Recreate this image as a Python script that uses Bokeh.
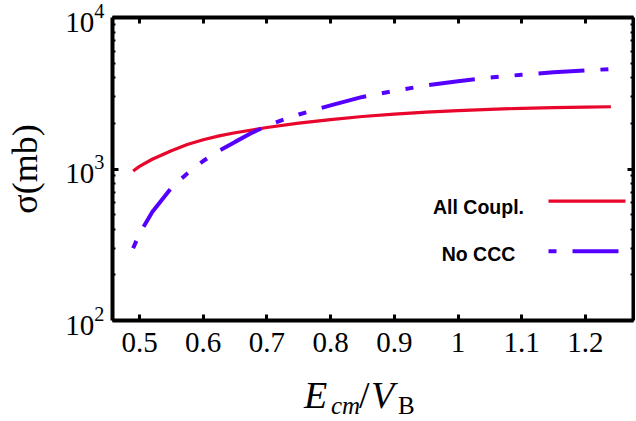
from bokeh.plotting import figure
from bokeh.models import Range1d, LogAxis, LinearAxis, FixedTicker, LogTicker, Label, Div
from bokeh.layouts import column
from bokeh.embed import file_html
from bokeh.resources import INLINE

# ---- data ----
x_red = [0.49, 0.50, 0.52, 0.55, 0.575, 0.60, 0.625, 0.65, 0.70, 0.75, 0.80, 0.85,
         0.90, 0.95, 1.00, 1.05, 1.10, 1.15, 1.20, 1.24]
y_red = [970, 1040, 1160, 1320, 1450, 1560, 1655, 1735, 1880, 2010, 2120, 2220,
         2300, 2375, 2430, 2475, 2515, 2540, 2560, 2575]

x_blue = [0.49, 0.50, 0.52, 0.55, 0.575, 0.60, 0.625, 0.65, 0.675, 0.70, 0.725, 0.75,
          0.80, 0.85, 0.90, 0.95, 1.00, 1.05, 1.10, 1.15, 1.20, 1.24]
y_blue = [300, 375, 520, 750, 935, 1130, 1320, 1510, 1720, 1930, 2110, 2290,
          2630, 2990, 3280, 3560, 3800, 4010, 4190, 4350, 4470, 4570]

x_ticks = [0.5, 0.6, 0.7, 0.8, 0.9, 1.0, 1.1, 1.2]
x_tick_labels = ["0.5", "0.6", "0.7", "0.8", "0.9", "1", "1.1", "1.2"]

series_names = ["All Coupl.", "No CCC"]
y_title = "σ(mb)"

# ---- layout constants ----
W, H = 635, 370
X0, X1 = 0.4576, 1.2755
Y0, Y1 = 100, 10000
RED = "#e8062c"
BLUE = "#5500ff"
DASH = "46 16 8 16 8 16"

# page-pixel -> data helpers (frame: x 112..633, y 17..320 in page pixels)
def xd(px):
    return X0 + (px - 112) / 637.0

def yd(py):
    return 10 ** (2 + (320 - py) / 151.5)

p = figure(width=W, height=H, y_axis_type="log",
           x_range=Range1d(X0, X1), y_range=Range1d(Y0, Y1),
           output_backend="svg", toolbar_location=None,
           min_border_left=112, min_border_right=2, min_border_top=17,
           min_border_bottom=50)
p.grid.visible = False
p.outline_line_color = None
p.background_fill_color = "white"
p.border_fill_color = "white"

def style_axis(ax, labels=True, minor=False):
    ax.axis_line_width = 4
    ax.axis_line_color = "black"
    ax.major_tick_in = 6
    ax.major_tick_out = 0
    ax.major_tick_line_width = 3
    ax.major_tick_line_color = "black"
    if minor:
        ax.minor_tick_in = 3
        ax.minor_tick_out = 0
        ax.minor_tick_line_width = 2
        ax.minor_tick_line_color = "black"
    else:
        ax.minor_tick_line_color = None
    if labels:
        ax.major_label_text_font = "Liberation Serif"
        ax.major_label_text_font_size = "29px"
        ax.major_label_text_color = "black"
    else:
        ax.major_label_text_font_size = "1px"
        ax.major_label_text_alpha = 0
        ax.major_label_standoff = 0

# bottom axis
xax = p.xaxis[0]
xax.ticker = FixedTicker(ticks=x_ticks)
xax.major_label_overrides = dict(zip(x_ticks, x_tick_labels))
style_axis(xax)
xax.major_label_standoff = 12

# left axis
yax = p.yaxis[0]
yax.ticker = LogTicker(num_minor_ticks=10)
style_axis(yax, minor=True)
yax.major_label_standoff = 8
yax.axis_label = y_title
yax.axis_label_text_font = "Liberation Serif"
yax.axis_label_text_font_size = "36px"
yax.axis_label_text_font_style = "normal"
yax.axis_label_text_color = "black"
yax.axis_label_standoff = 17

# mirrored axes
top = LinearAxis(ticker=FixedTicker(ticks=x_ticks))
style_axis(top, labels=False)
p.add_layout(top, "above")
right = LogAxis(ticker=LogTicker(num_minor_ticks=10))
style_axis(right, labels=False, minor=True)
p.add_layout(right, "right")

# curves
p.line(x_red, y_red, line_color=RED, line_width=3.2)
p.line(x_blue, y_blue, line_color=BLUE, line_width=4, line_dash=DASH,
       line_dash_offset=86)

# legend (drawn by hand: labels left of swatches)
p.line([xd(548), xd(625)], [yd(200.7), yd(200.7)], line_color=RED, line_width=3.2)
p.line([xd(548), xd(619)], [yd(250.7), yd(250.7)], line_color=BLUE, line_width=4,
       line_dash=DASH, line_dash_offset=86)
for name, py in zip(series_names, [206.7, 253.0]):
    p.add_layout(Label(x=xd(478), y=yd(py), text=name, text_align="center",
                       text_baseline="alphabetic", text_font="Liberation Sans",
                       text_font_style="bold", text_font_size="19.5px",
                       text_color="black"))

# x axis title: E_cm / V_B, as styled HTML text below the figure
big = "display:inline-block; font-size:38px;"
sub = "display:inline-block; font-size:25px; vertical-align:-6px;"
x_title_html = (
    "<div style=\"font-family:'Liberation Serif'; font-size:34px; line-height:34px;"
    " padding-left:304px; padding-top:8px; white-space:nowrap; color:black;\">"
    "<span style=\"" + big + " width:27px; font-style:italic;\">E</span>"
    "<span style=\"" + sub + " width:28px; font-style:italic;\">cm</span>"
    "<span style=\"" + big + " width:12px;\">/</span>"
    "<span style=\"" + big + " width:27px; font-style:italic;\">V</span>"
    "<span style=\"" + sub + "\">B</span></div>"
)
x_title = Div(text=x_title_html, width=W, height=48, margin=(0, 0, 0, 0))

layout = column(p, x_title, spacing=0)
open("out.html", "w").write(file_html(layout, INLINE))
